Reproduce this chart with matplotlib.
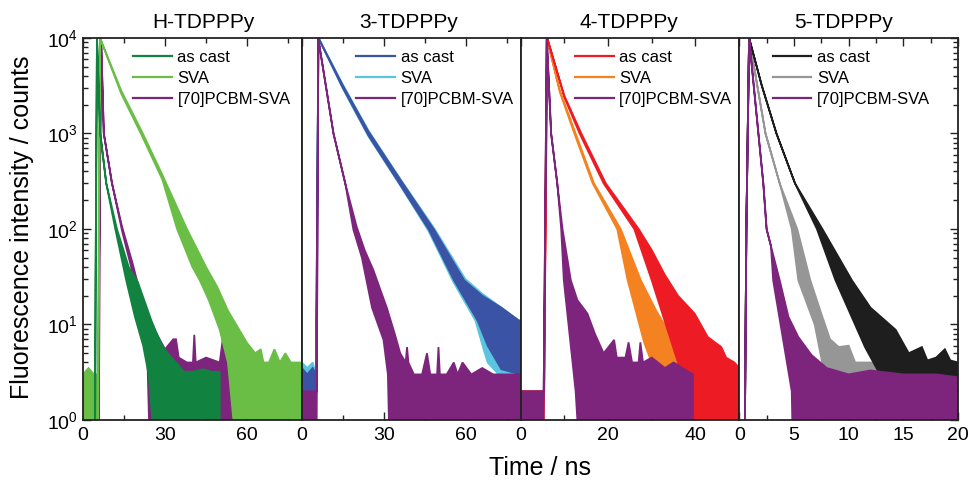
import numpy as np
import matplotlib.pyplot as plt
from matplotlib.ticker import LogLocator, MultipleLocator

plt.rcParams['font.family'] = ['Liberation Sans', 'DejaVu Sans']
plt.rcParams['mathtext.default'] = 'regular'

c_purple = '#7d247d'

# Each decay is drawn as the noisy band between its upper and lower envelope
# (time in ns, counts).

# ---- H-TDPPPy
h_cast_up_t = [4.4, 4.6, 5.1, 6.3, 8.5, 12.4, 16.7, 20, 23, 25, 27, 29, 31, 34, 37, 40, 44, 47, 50]
h_cast_up = [0.5, 30, 1e4, 1000, 300, 100, 40, 28, 16, 11, 8, 6, 5, 4, 3.2, 3.2, 3.4, 3.2, 3.2]
h_cast_dn_t = [4.4, 4.6, 5.1, 6.3, 8.5, 11.8, 15.8, 19, 22, 24, 26.2, 50]
h_cast_dn = [0.5, 30, 1e4, 1000, 300, 100, 29, 12, 6, 3, 0.5, 0.5]

h_sva_up_t = [0, 2, 4, 5.5, 5.7, 6.2, 14, 21.5, 29, 38, 45, 49, 53, 56, 60, 63, 65, 66, 68, 70, 72, 74, 76, 80]
h_sva_up = [3, 3.5, 3, 3, 20, 1e4, 2800, 1050, 370, 100, 40, 25, 14, 10, 6.4, 5, 5.5, 4, 4, 5.5, 4, 5, 4, 4]
h_sva_dn_t = [0, 5.5, 5.7, 6.2, 14, 21.5, 29, 34.4, 40, 42.7, 46, 50, 53, 56, 80]
h_sva_dn = [0.5, 0.5, 20, 1e4, 2600, 950, 330, 100, 40, 29, 18, 8.8, 4, 0.5, 0.5]

h_pcbm_up_t = [5.8, 6.0, 6.6, 7.6, 10.6, 14.3, 18, 20, 22, 24, 26, 28, 30, 33, 34, 35, 38,
               40.2, 40.7, 41.2, 45, 50, 51.5, 53, 54, 55, 57.6]
h_pcbm_up = [0.5, 50, 1e4, 1000, 300, 105, 45, 27, 17, 12, 9, 7, 5.5, 7, 7, 4.5, 4,
             4, 7.8, 4, 4.5, 4, 8.6, 7, 4.5, 4, 3]
h_pcbm_dn_t = [5.8, 6.0, 6.6, 7.6, 10.6, 14.3, 18, 20, 22, 23.5, 24.4, 57.6]
h_pcbm_dn = [0.5, 50, 1e4, 1000, 300, 95, 36, 18, 10, 5, 0.5, 0.5]

# ---- 3-TDPPPy
t3_cast_up_t = [0, 2, 4, 5.2, 6.1, 15, 24.4, 36, 48.4, 59.4, 66, 73, 79.4, 80]
t3_cast_up = [3.5, 3, 3.5, 3, 1e4, 3200, 1050, 330, 98, 29, 20, 15, 11, 11]
t3_cast_dn_t = [0, 5.2, 6.1, 15, 24.4, 36, 46.5, 55.7, 64.3, 68, 73, 80]
t3_cast_dn = [2, 2, 1e4, 3000, 950, 290, 98, 29, 11, 6, 3.4, 3]

t3_sva_up_t = [0, 2, 4, 5.2, 6.1, 15, 24.4, 36, 48.6, 59.8, 66, 73, 79.4, 80]
t3_sva_up = [4, 3.5, 4, 3, 1e4, 3250, 1070, 335, 100, 30, 21, 15, 11, 11]
t3_sva_dn_t = [0, 5.2, 6.1, 15, 24.4, 36, 46.3, 55.4, 63.5, 66.5, 68, 72, 80]
t3_sva_dn = [0.5, 0.5, 1e4, 2950, 930, 285, 96, 28, 11, 5.5, 4, 3, 2.5]

t3_pcbm_up_t = [0, 5.4, 5.5, 6.0, 11.6, 15.9, 20.1, 23, 26.2, 29, 31.1, 34, 36, 38, 38.5, 39, 41, 44,
                45.8, 47, 49.5, 50, 50.5, 53, 55.6, 57, 58.8, 62, 66, 70, 75, 80]
t3_pcbm_up = [2, 2, 2, 1e4, 1000, 300, 105, 60, 37, 22, 15, 8, 5, 4, 5.8, 4, 3, 3,
              5, 3, 3, 5.8, 3, 3, 4, 3, 4, 3, 3.5, 3, 3, 3]
t3_pcbm_dn_t = [0, 5.4, 5.5, 6.0, 11.6, 15.9, 18.9, 22, 25.7, 29.9, 31.5, 32.1, 80]
t3_pcbm_dn = [0.5, 0.5, 2, 1e4, 1000, 300, 98, 50, 15, 6.9, 3, 0.5, 0.5]

# ---- 4-TDPPPy
t4_cast_up_t = [0, 5.2, 5.4, 6.1, 10, 13.9, 19.5, 27, 30, 33, 36, 39.8, 42.8, 45.9, 47, 48.9, 50]
t4_cast_up = [2, 2, 2, 1e4, 2500, 1000, 300, 100, 60, 33, 20, 13, 7.4, 5.8, 4.5, 4, 3.5]
t4_cast_dn_t = [0, 5.2, 5.4, 6.1, 10, 13.5, 19, 26, 30, 33.6, 36, 38.2, 50]
t4_cast_dn = [0.5, 0.5, 2, 1e4, 2400, 1000, 300, 100, 29, 8.8, 4, 0.5, 0.5]

t4_sva_up_t = [0, 5.2, 5.4, 6.0, 9, 12.6, 16.8, 22.9, 27.5, 31, 33.6, 36, 37.5]
t4_sva_up = [2, 2, 2, 1e4, 2800, 1000, 300, 100, 29, 14, 8.8, 4.5, 3]
t4_sva_dn_t = [0, 5.2, 5.4, 6.0, 9, 12.3, 16.5, 22.1, 24.5, 28.3, 31, 33, 37.5]
t4_sva_dn = [0.5, 0.5, 2, 1e4, 2700, 1000, 300, 100, 29, 6.4, 3, 0.5, 0.5]

t4_pcbm_up_t = [0, 5.2, 5.3, 6.0, 7.0, 8.4, 9.6, 11.5, 13, 15.3, 17, 19, 21.4, 22, 24, 24.7, 25.5,
                27, 27.4, 28, 30, 33, 35, 37, 39.4]
t4_pcbm_up = [2, 2, 2, 1e4, 1000, 300, 100, 29, 18, 13, 8, 5, 6.9, 4.5, 4.5, 6.5, 4,
              4, 6.5, 4, 4.5, 3.5, 4, 3.5, 3]
t4_pcbm_dn_t = [0, 5.2, 5.3, 6.0, 7.0, 8.4, 9.3, 9.9, 12.6, 13.4, 39.4]
t4_pcbm_dn = [0.5, 0.5, 2, 1e4, 1000, 300, 100, 29, 2, 0.5, 0.5]

# ---- 5-TDPPPy
t5_cast_up_t = [0.5, 0.65, 0.9, 2.05, 3.4, 5.1, 7.6, 9.6, 10.3, 12, 14.3, 15.5, 16.7, 17.2, 18, 18.8, 19.3, 20]
t5_cast_up = [0.5, 100, 1e4, 3200, 1000, 300, 100, 40, 29, 15, 8.8, 5, 5.8, 4.2, 4.5, 5.5, 4.2, 4]
t5_cast_dn_t = [0.5, 0.65, 0.9, 2.05, 3.4, 5.1, 7.1, 8.8, 11.5, 12.8, 13.7, 20]
t5_cast_dn = [0.5, 100, 1e4, 3200, 1000, 300, 100, 29, 5.8, 3.1, 0.5, 0.5]

t5_sva_up_t = [0.5, 0.65, 0.9, 2.4, 3.7, 5.3, 6.5, 7.5, 8.3, 9.1, 10, 10.6, 11.5, 13, 15, 17, 20]
t5_sva_up = [0.5, 100, 1e4, 1000, 300, 100, 29, 13, 7, 5.8, 6, 4, 4, 4, 3.5, 3.5, 3.5]
t5_sva_dn_t = [0.5, 0.65, 0.9, 2.4, 3.7, 4.8, 5.4, 6.9, 7.8, 8.3, 20]
t5_sva_dn = [0.5, 100, 1e4, 1000, 300, 100, 29, 10, 3, 0.5, 0.5]

t5_pcbm_up_t = [0.5, 0.65, 0.9, 1.75, 2.2, 2.5, 2.9, 3.7, 4.5, 5.4, 6.6, 8, 10, 12, 15, 18, 20]
t5_pcbm_up = [0.5, 100, 1e4, 1000, 300, 100, 66, 29, 12, 7.4, 4.8, 3.5, 3, 3.3, 3, 3, 2.8]
t5_pcbm_dn_t = [0.5, 0.65, 0.9, 1.75, 2.2, 2.5, 2.9, 3.1, 4.8, 4.9, 20]
t5_pcbm_dn = [0.5, 100, 1e4, 1000, 300, 100, 66, 29, 2, 0.5, 0.5]

labels = ['as cast', 'SVA', '[70]PCBM-SVA']
titles = ['H-TDPPPy', '3-TDPPPy', '4-TDPPPy', '5-TDPPPy']
title_x = [0.55, 0.49, 0.495, 0.475]
xmax = [80, 80, 50, 20]
xmajor = [30, 30, 20, 5]
xminor = [15, 15, 10, 2.5]
leg_x = [0.23, 0.25, 0.25, 0.155]

panels = [
    [(h_cast_up_t, h_cast_up, h_cast_dn_t, h_cast_dn, '#128240'),
     (h_sva_up_t, h_sva_up, h_sva_dn_t, h_sva_dn, '#6abe45'),
     (h_pcbm_up_t, h_pcbm_up, h_pcbm_dn_t, h_pcbm_dn, c_purple)],
    [(t3_cast_up_t, t3_cast_up, t3_cast_dn_t, t3_cast_dn, '#3a53a4'),
     (t3_sva_up_t, t3_sva_up, t3_sva_dn_t, t3_sva_dn, '#5bc5e0'),
     (t3_pcbm_up_t, t3_pcbm_up, t3_pcbm_dn_t, t3_pcbm_dn, c_purple)],
    [(t4_cast_up_t, t4_cast_up, t4_cast_dn_t, t4_cast_dn, '#ed1c24'),
     (t4_sva_up_t, t4_sva_up, t4_sva_dn_t, t4_sva_dn, '#f58220'),
     (t4_pcbm_up_t, t4_pcbm_up, t4_pcbm_dn_t, t4_pcbm_dn, c_purple)],
    [(t5_cast_up_t, t5_cast_up, t5_cast_dn_t, t5_cast_dn, '#1e1e1e'),
     (t5_sva_up_t, t5_sva_up, t5_sva_dn_t, t5_sva_dn, '#969696'),
     (t5_pcbm_up_t, t5_pcbm_up, t5_pcbm_dn_t, t5_pcbm_dn, c_purple)],
]
# drawing order per panel (index into series), last is on top
orders = [[2, 1, 0], [1, 0, 2], [1, 0, 2], [1, 0, 2]]

fig, axes = plt.subplots(1, 4, figsize=(9.71, 4.8), dpi=100, sharey=True)
fig.subplots_adjust(left=0.0855, right=0.9866, bottom=0.125, top=0.921, wspace=0)

for i, ax in enumerate(axes):
    series = panels[i]
    for z, k in enumerate(orders[i]):
        ut, uv, dt, dv, col = series[k]
        xs = list(ut) + list(dt)[::-1]
        ys = list(uv) + list(dv)[::-1]
        ax.fill(xs, ys, color=col, lw=1.3, zorder=2 + z)
    handles = [ax.plot([], [], color=s[4], lw=1.6)[0] for s in series]
    ax.legend(handles, labels, loc='upper left', bbox_to_anchor=(leg_x[i], 0.968),
              frameon=False, fontsize=12, handlelength=2.3, handletextpad=0.35,
              labelspacing=0.36, borderpad=0, borderaxespad=0)

    ax.set_yscale('log')
    ax.set_ylim(1, 1e4)
    ax.set_xlim(0, xmax[i])
    ax.xaxis.set_minor_locator(MultipleLocator(xminor[i]))
    ax.yaxis.set_major_locator(LogLocator(base=10))
    ax.yaxis.set_minor_locator(LogLocator(base=10, subs=np.arange(2, 10)))
    ticks = [v for v in np.arange(0, xmax[i] + 0.01, xmajor[i])
             if v < xmax[i] - 1e-6 or i == 3]
    ax.set_xticks(ticks)
    ax.set_xticklabels(['%g' % v for v in ticks])
    ax.set_title(titles[i], fontsize=15, pad=7, x=title_x[i])
    ax.tick_params(which='both', direction='in', top=True, bottom=True,
                   left=(i == 0), right=(i == 3), labelsize=14, width=1.0, color='#222222')
    ax.tick_params(which='major', length=6)
    ax.tick_params(which='minor', length=3.5)
    ax.tick_params(axis='x', pad=5)
    for sp in ax.spines.values():
        sp.set_linewidth(1.3)
        sp.set_color('#222222')
        sp.set_zorder(10)

fig.text(0.0227, 0.527, 'Fluorescence intensity / counts', fontsize=18,
         rotation=90, ha='center', va='center')
fig.text(0.556, 0.025, 'Time / ns', fontsize=18, ha='center', va='center')

plt.savefig('out.png', dpi=100)
